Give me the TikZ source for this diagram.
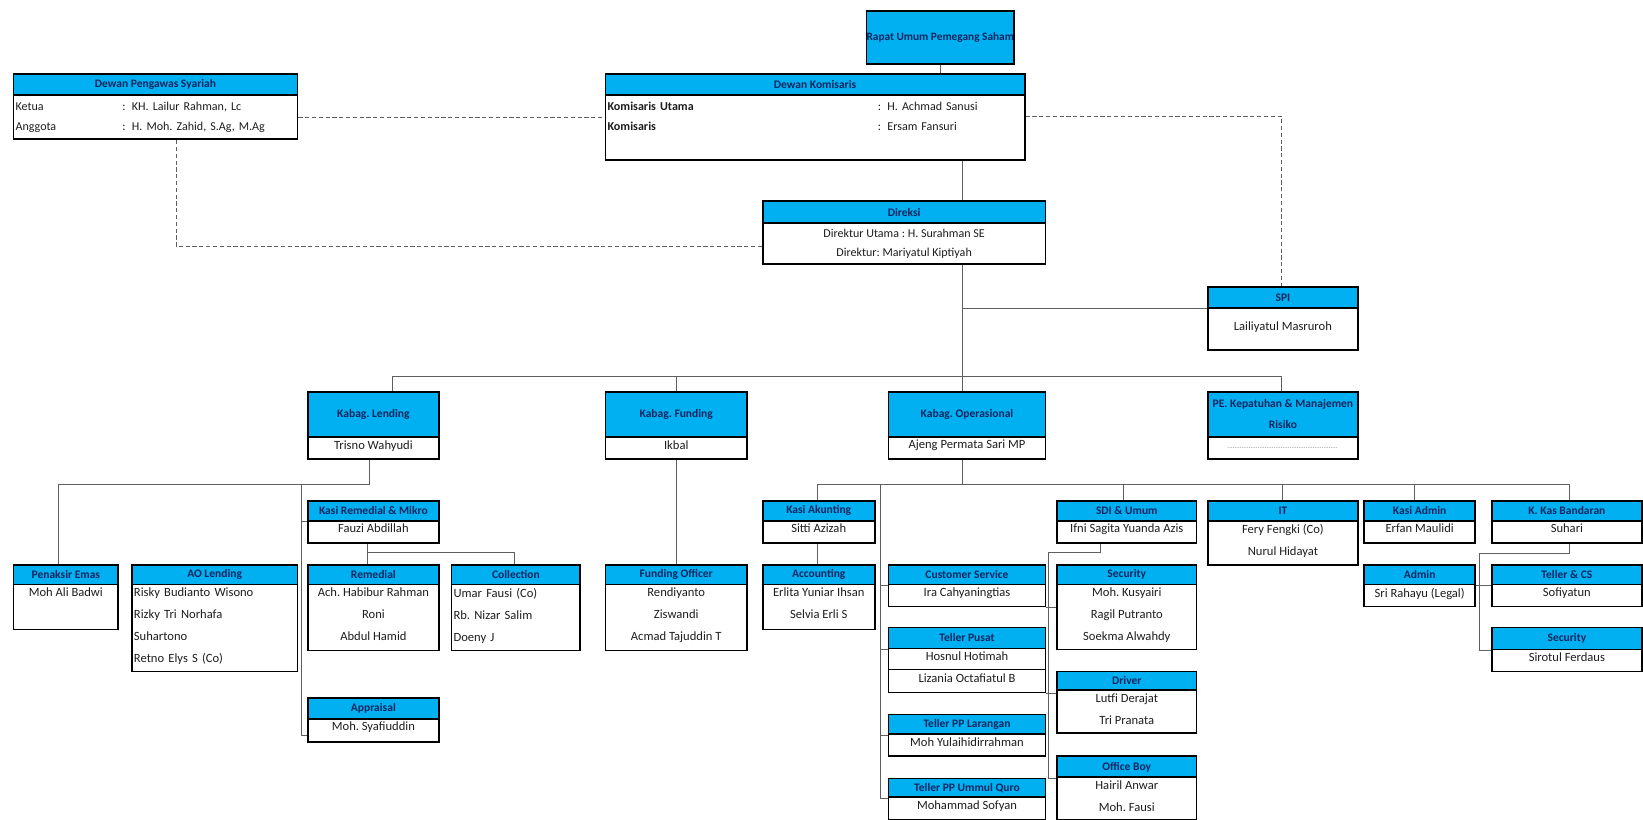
\documentclass[tikz,border=0pt]{standalone}
\usepackage{fontspec}
\setmainfont{Carlito}
\frenchspacing

\definecolor{hdrblue}{RGB}{0,176,240}
\definecolor{hdrtext}{RGB}{14,38,98}
\definecolor{bodytext}{RGB}{30,30,30}
\definecolor{linegray}{RGB}{95,95,95}

\tikzset{
  hdr/.style={draw, line width=1.7pt, fill=hdrblue, inner sep=0pt,
    anchor=north west, align=center, text=hdrtext,
    font=\fontsize{11}{20}\selectfont\bfseries},
  bdy/.style={draw, line width=1.7pt, fill=white, inner sep=0pt,
    anchor=north west},
  rows/.style={inner sep=0pt, anchor=north, align=center, text=bodytext,
    font=\fontsize{12}{21}\selectfont},
  link/.style={draw=linegray, line width=0.9pt},
  dlink/.style={draw=linegray, line width=0.9pt, dash pattern=on 4pt off 2.5pt}
}

% box: [rows options]{name}{left}{right}{top}{header bottom}{bottom}{header}{rows}
\newcommand{\orgbox}[9][]{%
  \node[hdr, minimum width=#4pt-#3pt, minimum height=#6pt-#5pt] (#2h)
    at (#3pt,-#5pt) {#8};
  \node[bdy, minimum width=#4pt-#3pt, minimum height=#7pt-#6pt] (#2)
    at (#3pt,-#6pt) {};
  \node[rows,#1] (#2t) at ([yshift=-4pt]#2.north) {#9};
}

\begin{document}
\begin{tikzpicture}
  \useasboundingbox (0pt,0pt) rectangle (1568pt,-782pt);

  \node[hdr, minimum width=141pt, minimum height=50pt,
    font=\fontsize{10.8}{20}\selectfont\bfseries] (rups)
    at (826pt,-10pt) {Rapat Umum Pemegang Saham};
  \orgbox[text width=396pt, align=left, font=\fontsize{11.5}{19}\selectfont, yshift=2pt]
    {dk}{577}{977}{70}{90}{152}{Dewan Komisaris}
    {\begin{tabular}{@{}p{258pt}@{}l@{}}
      \textbf{Komisaris Utama} & :\hspace{6pt}H. Achmad Sanusi\\
      \textbf{Komisaris} & :\hspace{6pt}Ersam Fansuri
    \end{tabular}}
  \orgbox[text width=267pt, align=left, font=\fontsize{11.5}{19}\selectfont, yshift=2pt]
    {dps}{12}{283}{70}{90}{132}{Dewan Pengawas Syariah}
    {\begin{tabular}{@{}p{102pt}@{}l@{}}
      Ketua & :\hspace{6pt}KH. Lailur Rahman, Lc\\
      Anggota & :\hspace{6pt}H. Moh. Zahid, S.Ag, M.Ag
    \end{tabular}}
  \orgbox[font=\fontsize{11.5}{19}\selectfont, yshift=-2pt]{dir}{727}{997}{191}{212}{251}{Direksi}
    {Direktur Utama : H. Surahman SE\\Direktur: Mariyatul Kiptiyah}
  \orgbox[yshift=-10pt]{spi}{1152}{1295}{273}{293}{333}{SPI}{Lailiyatul Masruroh}

  \orgbox{kl}{293}{418}{373}{416}{437}{Kabag. Lending}{Trisno Wahyudi}
  \orgbox{kf}{577}{712}{373}{416}{437}{Kabag. Funding}{Ikbal}
  \orgbox{ko}{847}{997}{373}{416}{437}{Kabag. Operasional}{Ajeng Permata Sari MP}
  \orgbox[font=\fontsize{6}{6}\selectfont, text=black!60, yshift=-7pt]
    {kr}{1152}{1295}{373}{416}{437}{PE. Kepatuhan \& Manajemen\\Risiko}
    {\makebox[106pt]{\leaders\hbox to 1.7pt{\hss.\hss}\hfill}}

  \orgbox{krm}{293}{418}{477}{496}{517}{Kasi Remedial \& Mikro}{Fauzi Abdillah}
  \orgbox{pe}{12}{112}{538}{557}{600}{Penaksir Emas}{Moh Ali Badwi}
  \orgbox[text width=154pt, align=left]{ao}{125}{283}{538}{557}{640}{AO Lending}
    {Risky Budianto Wisono\\Rizky Tri Norhafa\\Suhartono\\Retno Elys S (Co)}
  \orgbox{rem}{293}{418}{538}{557}{620}{Remedial}
    {Ach. Habibur Rahman\\Roni\\Abdul Hamid}
  \orgbox[text width=119pt, align=left]{col}{430}{553}{538}{557}{620}{Collection}
    {Umar Fausi (Co)\\Rb. Nizar Salim\\Doeny J}
  \orgbox{ap}{293}{418}{665}{685}{707}{Appraisal}{Moh. Syafiuddin}
  \orgbox{fo}{577}{712}{538}{557}{620}{Funding Officer}
    {Rendiyanto\\Ziswandi\\Acmad Tajuddin T}

  \orgbox{ka}{727}{834}{477}{496}{517}{Kasi Akunting}{Sitti Azizah}
  \orgbox{ac}{727}{834}{538}{557}{600}{Accounting}{Erlita Yuniar Ihsan\\Selvia Erli S}
  \orgbox{cs}{847}{997}{538}{557}{578}{Customer Service}{Ira Cahyaningtias}
  \orgbox{tp}{847}{997}{598}{618}{660}{Teller Pusat}{Hosnul Hotimah\\Lizania Octafiatul B}
  \draw[line width=1.7pt] ([yshift=-21pt]tp.north west) -- ([yshift=-21pt]tp.north east);
  \orgbox{tl}{847}{997}{681}{700}{721}{Teller PP Larangan}{Moh Yulaihidirrahman}
  \orgbox{tu}{847}{997}{742}{760}{782}{Teller PP Ummul Quro}{Mohammad Sofyan}
  \orgbox{sdi}{1008}{1141}{477}{496}{517}{SDI \& Umum}{Ifni Sagita Yuanda Azis}
  \orgbox{secs}{1008}{1141}{538}{557}{619}{Security}
    {Moh. Kusyairi\\Ragil Putranto\\Soekma Alwahdy}
  \orgbox{dr}{1008}{1141}{640}{658}{699}{Driver}{Lutfi Derajat\\Tri Pranata}
  \orgbox{ob}{1008}{1141}{721}{741}{782}{Office Boy}{Hairil Anwar\\Moh. Fausi}
  \orgbox{it}{1152}{1295}{477}{496}{538}{IT}{Fery Fengki (Co)\\Nurul Hidayat}
  \orgbox{kad}{1301}{1407}{477}{496}{517}{Kasi Admin}{Erfan Maulidi}
  \orgbox{kk}{1423}{1566}{477}{496}{517}{K. Kas Bandaran}{Suhari}
  \orgbox{ad}{1301}{1407}{538}{557}{578}{Admin}{Sri Rahayu (Legal)}
  \orgbox{tc}{1423}{1566}{538}{557}{578}{Teller \& CS}{Sofiyatun}
  \orgbox{sck}{1423}{1566}{598}{619}{640}{Security}{Sirotul Ferdaus}

  \coordinate (jS) at (1223pt,-111pt);
  \coordinate (jP) at (168pt,-235pt);
  \coordinate (jD) at (919pt,-359pt);
  \coordinate (jL1) at (375pt,-359pt);
  \coordinate (jF) at (646pt,-359pt);
  \coordinate (jR1) at (1223pt,-359pt);
  \coordinate (jL2) at (353pt,-462pt);
  \coordinate (jPe) at (56pt,-462pt);
  \coordinate (jV) at (288pt,-462pt);
  \coordinate (jVb) at (288pt,-702pt);
  \coordinate (jR) at (351pt,-527pt);
  \coordinate (jC) at (491pt,-527pt);
  \coordinate (jO) at (919pt,-462pt);
  \coordinate (jA) at (780pt,-462pt);
  \coordinate (jT) at (840pt,-462pt);
  \coordinate (jSd) at (1072pt,-462pt);
  \coordinate (jIt) at (1224pt,-462pt);
  \coordinate (jKa) at (1350pt,-462pt);
  \coordinate (jB) at (1498pt,-462pt);
  \coordinate (jSd2) at (1050pt,-527pt);
  \coordinate (jSv) at (1001pt,-527pt);
  \coordinate (jK2) at (1498pt,-528pt);
  \coordinate (jKv) at (1412pt,-528pt);

  \draw[dlink] (dps.east) -- (dps.east -| dk.west);
  \draw[dlink] (dk.east |- jS) -- (jS) -- (spih.north -| jS);
  \draw[dlink] (dps.south -| jP) -- (jP) -- (jP -| dir.west);

  \draw[link] (rups.south) -- (rups.south |- dkh.north);
  \draw[link] (dk.south -| jD) -- (dirh.north -| jD);
  \draw[link] (dir.south -| jD) -- (jD);
  \draw[link] (spih.south west -| jD) -- (spih.south west);
  \draw[link] (jL1) -- (jR1);
  \draw[link] (jL1) -- (klh.north -| jL1);
  \draw[link] (jF) -- (kfh.north -| jF);
  \draw[link] (jD) -- (koh.north -| jD);
  \draw[link] (jR1) -- (krh.north -| jR1);

  \draw[link] (kl.south -| jL2) -- (jL2) -- (jPe) -- (peh.north -| jPe);
  \draw[link] (jV) -- (jVb) -- (jVb -| ap.west);
  \draw[link] (krmh.south west -| jV) -- (krmh.south west);
  \draw[link] (krm.south -| jR) -- (jR) -- (jC) -- (colh.north -| jC);
  \draw[link] (jR) -- (remh.north -| jR);
  \draw[link] (kf.south -| jF) -- (foh.north -| jF);

  \draw[link] (ko.south -| jO) -- (jO);
  \draw[link] (jA) -- (jB);
  \draw[link] (jA) -- (kah.north -| jA);
  \draw[link] (ka.south -| jA) -- (ach.north -| jA);
  \draw[link] (jT) -- (jT |- tuh.south west) -- (tuh.south west);
  \draw[link] (jT |- csh.south west) -- (csh.south west);
  \draw[link] (jT |- tph.south west) -- (tph.south west);
  \draw[link] (jT |- tlh.south west) -- (tlh.south west);
  \draw[link] (jSd) -- (sdih.north -| jSd);
  \draw[link] (jIt) -- (ith.north -| jIt);
  \draw[link] (jKa) -- (kadh.north -| jKa);
  \draw[link] (jB) -- (kkh.north -| jB);

  \draw[link] (sdi.south -| jSd2) -- (jSd2) -- (jSv) -- (jSv |- obh.south west)
    -- (obh.south west);
  \draw[link] (cs.south east) -- (cs.south east -| secs.west);
  \draw[link] (tp.south east) -- (tp.south east -| dr.west);
  \draw[link] (kk.south -| jK2) -- (jK2) -- (jKv) -- (jKv |- sckh.south west)
    -- (sckh.south west);
  \draw[link] (adh.south east) -- (tch.south west);

\end{tikzpicture}
\end{document}
